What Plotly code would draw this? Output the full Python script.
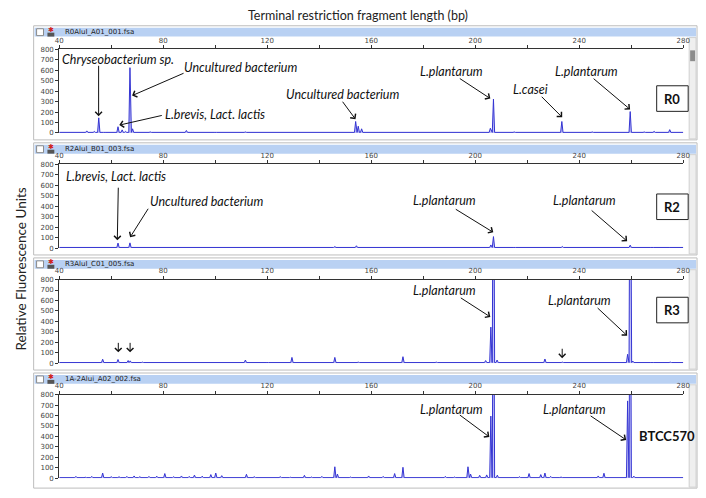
import plotly.graph_objects as go

# ---- data: peaks (size in bp, height in RFU) ----
r0_bp = [46, 50.6, 53.5, 55.2, 57.5, 62.6, 64.2, 65.5, 67.2, 68.2, 75, 88.9, 100, 111.6, 125,
         136.8, 150, 154, 155, 156.3, 165, 172, 185, 195, 205.8, 207, 215, 222, 233.3, 245,
         252, 259.6, 265, 268.8, 274.8]
r0_rfu = [12, 20, 15, 145, 8, 60, 30, 15, 625, 40, 10, 24, 8, 10, 8,
          9, 12, 110, 65, 40, 10, 12, 8, 10, 45, 325, 10, 12, 110, 10,
          8, 205, 10, 15, 32]

r2_bp = [46, 55, 62.6, 67.2, 72, 88, 100, 111.6, 130, 146, 154.3, 158, 172, 185, 206, 207,
         215, 233.5, 245, 259.6, 268, 275]
r2_rfu = [8, 8, 48, 50, 8, 8, 6, 12, 8, 14, 22, 10, 12, 8, 30, 110,
          8, 15, 8, 28, 8, 6]

r3_bp = [46, 50, 56.7, 62.6, 66.5, 67.3, 72, 80, 90, 100, 111.6, 120, 129.5, 138, 146, 155,
         160, 172.2, 185, 195, 204, 206, 207, 208.4, 215, 221, 226.8, 233.5, 240, 250, 258.6,
         259.6, 260.6, 268, 275]
r3_rfu = [8, 10, 38, 35, 25, 22, 10, 8, 8, 8, 30, 8, 55, 10, 55, 10,
          10, 62, 10, 12, 25, 345, 3000, 30, 10, 12, 40, 10, 8, 10, 85,
          3000, 20, 8, 10]

b570_bp = [44, 46.4, 50, 52.5, 56.7, 60, 63, 66, 68.8, 71, 74.5, 77.5, 80.6, 84, 87, 90, 92,
           95, 98.3, 100.2, 102.5, 106, 112, 115, 120, 125, 129, 134.3, 137, 141, 146, 147,
           152, 159, 164.6, 169, 172.2, 178, 183, 188.5, 192, 197.2, 198.2, 201.7, 204.4, 206,
           207, 208.5, 213, 217, 220.7, 225.2, 226.8, 229, 233, 238, 243, 247.3, 249.5, 252,
           258.6, 259.6, 261, 266, 272, 277]
b570_rfu = [10, 18, 10, 18, 50, 15, 15, 18, 22, 15, 18, 20, 45, 15, 22, 18, 30,
            20, 35, 50, 25, 12, 38, 15, 12, 15, 10, 28, 12, 18, 110, 40,
            12, 22, 18, 45, 105, 10, 12, 18, 12, 110, 40, 28, 32, 595,
            3000, 30, 12, 15, 45, 35, 50, 18, 12, 10, 12, 22, 48, 12,
            740, 3000, 20, 10, 10, 8]

files = ["R0AluI_A01_001.fsa", "R2AluI_B01_003.fsa", "R3AluI_C01_005.fsa", "1A-2Alui_A02_002.fsa"]
panels = [(r0_bp, r0_rfu), (r2_bp, r2_rfu), (r3_bp, r3_rfu), (b570_bp, b570_rfu)]

x_ticks = list(range(40, 281, 20))
x_labels = [str(v) if v % 40 == 0 else "" for v in x_ticks]
y_ticks = list(range(0, 801, 100))

# ---- layout geometry, in page pixels; the page body has an 8px margin ----
PAD = 8
W, H = 706 - PAD, 498 - PAD
def px(x): return (x - PAD) / W
def py(y): return 1 - (y - PAD) / H

zero_px = [131, 248, 365, 482]
top_px = [46, 163, 280, 397]
frame_top = [22, 141, 258, 375]
frame_bot = [138, 255, 372, 492]
BASE = 6
HW = 0.45


def trace_xy(bp, rfu):
    pk = sorted(zip(bp, rfu))
    xs, ys = [], []
    for i, (p, h) in enumerate(pk):
        if not xs or p - HW > xs[-1]:
            xs.append(p - HW); ys.append(BASE)
        xs.append(p); ys.append(h)
        nxt = pk[i + 1][0] if i + 1 < len(pk) else 1e9
        if nxt - HW > p + HW:
            xs.append(p + HW); ys.append(BASE)
    xs = [40] + xs + [280]
    ys = [BASE] + ys + [BASE]
    return xs, ys


def note(text, x, y, size=12, family="Lato", color="#111", **kw):
    return dict(text=text, x=px(x), y=py(y), xref="paper", yref="paper", showarrow=False,
                xanchor=kw.pop("xanchor", "center"), yanchor="middle",
                font=dict(family=family, size=size, color=color), **kw)


fig = go.Figure()
layout = {}
shapes = []
ann = []
tick_font = dict(family="DejaVu Sans", size=7, color="#444")

for k, (bp, rfu) in enumerate(panels):
    n = "" if k == 0 else str(k + 1)
    xs, ys = trace_xy(bp, rfu)
    fig.add_trace(go.Scatter(x=xs, y=ys, mode="lines", xaxis="x" + n, yaxis="y" + n,
                             line=dict(color="#3434d2", width=1),
                             fill="tozeroy", fillcolor="rgba(120,120,235,0.45)",
                             hoverinfo="skip"))
    layout["xaxis" + n] = dict(domain=[px(56), px(690)], range=[40, 280], side="top",
                               anchor="y" + n, tickvals=x_ticks, ticktext=x_labels,
                               ticks="outside", ticklen=3, tickcolor="#333",
                               showline=True, linecolor="#333", linewidth=1,
                               showgrid=False, zeroline=False, tickfont=tick_font)
    layout["yaxis" + n] = dict(domain=[py(zero_px[k]), py(top_px[k])], range=[0, 800],
                               anchor="x" + n, tickvals=y_ticks, ticks="outside",
                               ticklen=3, tickcolor="#333", showline=True,
                               linecolor="#333", linewidth=1, showgrid=False,
                               zeroline=False, tickfont=tick_font)
    # panel frame, header bar, scroll strip
    ft, fb = frame_top[k], frame_bot[k]
    shapes.append(dict(type="rect", xref="paper", yref="paper", x0=px(30), x1=px(704),
                       y0=py(fb), y1=py(ft), line=dict(color="#bdbdbd", width=1),
                       fillcolor="white", layer="below"))
    shapes.append(dict(type="rect", xref="paper", yref="paper", x0=px(31), x1=px(703),
                       y0=py(ft + 11), y1=py(ft + 2), line=dict(width=0),
                       fillcolor="#b9d1f3", layer="below"))
    shapes.append(dict(type="rect", xref="paper", yref="paper", x0=px(696), x1=px(703),
                       y0=py(fb - 1), y1=py(ft + 12), line=dict(color="#d0d0d0", width=1),
                       fillcolor="#efefef", layer="below"))
    # checkbox and icon in the header
    shapes.append(dict(type="rect", xref="paper", yref="paper", x0=px(33), x1=px(40),
                       y0=py(ft + 10), y1=py(ft + 3), line=dict(color="#8a8a8a", width=1),
                       fillcolor="white"))
    shapes.append(dict(type="rect", xref="paper", yref="paper", x0=px(44), x1=px(51),
                       y0=py(ft + 11), y1=py(ft + 7), line=dict(width=0),
                       fillcolor="#555"))
    ann.append(note("✱", 47.5, ft + 4.5, size=7, family="DejaVu Sans", color="#d02020"))
    ann.append(note(files[k], 60, ft + 6.5, size=7, family="DejaVu Sans", color="#222",
                    xanchor="left"))

# scroll thumb on first panel
shapes.append(dict(type="rect", xref="paper", yref="paper", x0=px(697), x1=px(702),
                   y0=py(58), y1=py(47), line=dict(width=0), fillcolor="#8c8c8c"))

# sample boxes
for (lab, cy) in [("R0", 96), ("R2", 206), ("R3", 311)]:
    shapes.append(dict(type="rect", xref="paper", yref="paper", x0=px(663), x1=px(695),
                       y0=py(cy + 13), y1=py(cy - 13), line=dict(color="#222", width=1),
                       fillcolor="white"))
    ann.append(note("<b>" + lab + "</b>", 679, cy, size=13))
ann.append(note("<b>BTCC570</b>", 673, 439, size=13))

# species labels (text centre in page px)
labels = [
    ("Chryseobacterium sp.", 116, 56), ("Uncultured bacterium", 240, 64),
    ("L.brevis, Lact. lactis", 214, 112), ("Uncultured bacterium", 344, 92),
    ("L.plantarum", 455, 68), ("L.casei", 535, 87), ("L.plantarum", 592, 68),
    ("L.brevis, Lact. lactis", 114, 175), ("Uncultured bacterium", 206, 201),
    ("L.plantarum", 447, 200), ("L.plantarum", 590, 200),
    ("L.plantarum", 447, 291), ("L.plantarum", 585, 301),
    ("L.plantarum", 455, 412), ("L.plantarum", 580, 412),
]
for t, x, y in labels:
    ann.append(note("<i>" + t + "</i>", x, y, size=12.5))

# arrows: tail (x, y) -> head (x, y), page px
arrows = [
    (96, 62, 96, 114), (183, 70, 130, 93), (161, 113, 117, 123), (343, 98, 357, 117),
    (462, 75, 494, 96), (545, 93, 567, 115), (598, 75, 636, 107),
    (116, 186, 115, 240), (147, 207, 128, 237), (458, 208, 497, 232), (596, 209, 633, 241),
    (116, 343, 116, 354), (128, 343, 128, 354), (567, 349, 567, 360),
    (463, 298, 494, 318), (602, 308, 633, 337),
    (462, 417, 493, 440), (595, 418, 632, 443),
]
for tx, ty, hx, hy in arrows:
    ann.append(dict(text="", x=px(hx), y=py(hy), xref="paper", yref="paper",
                    ax=tx - hx, ay=ty - hy, showarrow=True, arrowhead=4, arrowsize=1.3,
                    arrowwidth=1, arrowcolor="#111"))

ann.append(note("Terminal restriction fragment length (bp)", 360, 12, size=12.5,
                color="#222"))
ann.append(note("Relative Fluorescence Units", 17, 269, size=13.5, color="#222",
                textangle=-90))

fig.update_layout(width=W, height=H, margin=dict(l=0, r=0, t=0, b=0),
                  paper_bgcolor="white", plot_bgcolor="white", showlegend=False,
                  shapes=shapes, annotations=ann, **layout)

fig.write_html("out.html")
